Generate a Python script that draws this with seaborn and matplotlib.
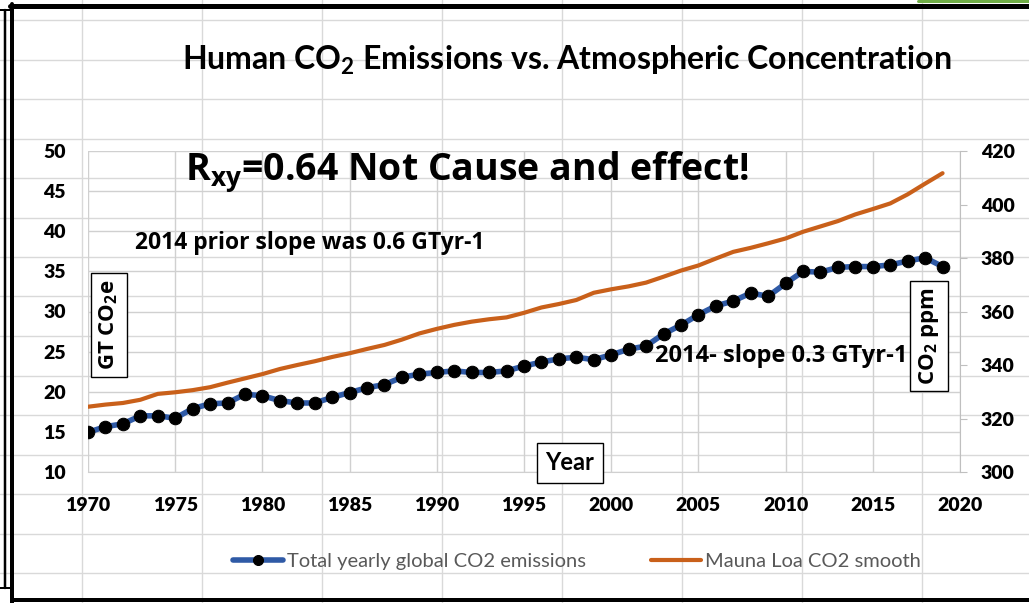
import numpy as np
import pandas as pd
import matplotlib
matplotlib.use('Agg')
import matplotlib.pyplot as plt
import seaborn as sns
from matplotlib.lines import Line2D

years = list(range(1970, 2020))
emissions = [14.95, 15.65, 16.0, 17.0, 17.0, 16.7, 17.9, 18.5, 18.6, 19.7,
             19.5, 18.9, 18.6, 18.6, 19.3, 19.9, 20.5, 20.9, 21.8, 22.2,
             22.4, 22.6, 22.4, 22.4, 22.6, 23.2, 23.7, 24.1, 24.3, 24.0,
             24.6, 25.3, 25.7, 27.2, 28.3, 29.6, 30.7, 31.3, 32.3, 31.9,
             33.5, 35.0, 34.9, 35.5, 35.6, 35.6, 35.8, 36.3, 36.7, 35.6]
mauna_loa = [324.4, 325.2, 325.8, 327.0, 329.2, 329.8, 330.6, 331.7, 333.4, 335.0,
             336.6, 338.5, 340.0, 341.4, 343.0, 344.4, 346.0, 347.5, 349.5, 351.8,
             353.5, 355.0, 356.2, 357.1, 357.8, 359.5, 361.5, 362.8, 364.3, 367.0,
             368.3, 369.4, 370.8, 373.0, 375.3, 377.2, 379.8, 382.3, 383.8, 385.5,
             387.3, 389.8, 391.8, 393.8, 396.3, 398.3, 400.4, 403.8, 407.8, 411.7]
left_ticks = [10, 15, 20, 25, 30, 35, 40, 45, 50]
right_ticks = [300, 320, 340, 360, 380, 400, 420]
year_ticks = [1970, 1975, 1980, 1985, 1990, 1995, 2000, 2005, 2010, 2015, 2020]

df = pd.DataFrame({'year': years, 'emissions': emissions, 'co2': mauna_loa})

sns.set_style('white')
plt.rcParams['font.family'] = ['Lato', 'DejaVu Sans']
plt.rcParams['text.color'] = 'black'

W, H = 1029, 603
fig = plt.figure(figsize=(W / 100, H / 100), dpi=100)
fig.patch.set_facecolor('white')

def px(x, y):
    return x / W, 1 - y / H

# spreadsheet cells behind the chart
cell = '#d9d9d9'
for x in np.arange(82, W, 120):
    fig.add_artist(Line2D([x / W] * 2, [0, 1], color=cell, lw=1, zorder=0))
for y in np.arange(20, H, 39.5):
    fig.add_artist(Line2D([0, 1], [1 - y / H] * 2, color=cell, lw=1, zorder=0))

blue = '#2f5aa6'
orange = '#c9601a'
grid = '#d0d0d0'

ax = fig.add_axes([88 / W, 1 - 472 / H, (960 - 88) / W, (472 - 151) / H])
ax.patch.set_visible(False)
sns.lineplot(data=df, x='year', y='emissions', ax=ax, color=blue, lw=4,
             marker='o', markersize=9, markerfacecolor='black',
             markeredgecolor='black', label='Total yearly global CO2 emissions',
             legend=False)
ax.set_xlim(1970, 2020)
ax.set_ylim(10, 50)
ax.set_xticks(year_ticks)
ax.set_yticks(left_ticks)
ax.grid(True, color=grid, lw=1)
ax.set_xlabel('')
ax.set_ylabel('')
for s in ['top', 'left', 'right']:
    ax.spines[s].set_visible(False)
ax.spines['bottom'].set_color(grid)
ax.tick_params(axis='y', length=0, pad=16, labelsize=14, labelcolor='black')
ax.tick_params(axis='x', length=0, pad=18, labelsize=14, labelcolor='black')
for lab in ax.get_xticklabels() + ax.get_yticklabels():
    lab.set_fontweight('heavy')

ax2 = ax.twinx()
sns.lineplot(data=df, x='year', y='co2', ax=ax2, color=orange, lw=3,
             label='Mauna Loa CO2 smooth', legend=False)
ax2.set_ylim(300, 420)
ax2.set_yticks(right_ticks)
ax2.set_ylabel('')
for s in ['top', 'left', 'bottom']:
    ax2.spines[s].set_visible(False)
ax2.spines['right'].set_color('#bfbfbf')
ax2.tick_params(axis='y', length=5, color='#bfbfbf', pad=10, labelsize=14,
                labelcolor='black')
for lab in ax2.get_yticklabels():
    lab.set_fontweight('heavy')

# title and annotations
fig.text(*px(567, 60), r'Human CO$_\mathregular{2}$ Emissions vs. Atmospheric Concentration',
         ha='center', va='center', fontsize=23, fontweight='bold')
fig.text(*px(185, 172), r'R$_\mathregular{xy}$=0.64 Not Cause and effect!',
         ha='left', va='center', fontsize=27, fontweight='bold', family='Open Sans')
fig.text(*px(135, 243), '2014 prior slope was 0.6 GTyr-1',
         ha='left', va='center', fontsize=16.5, fontweight='bold', family='Open Sans')
fig.text(*px(655, 356), '2014- slope 0.3 GTyr-1',
         ha='left', va='center', fontsize=17, fontweight='bold', family='Open Sans')

box = dict(boxstyle='square,pad=0.3', fc='white', ec='black', lw=1)
fig.text(*px(109, 325), r'GT CO$_\mathregular{2}$e', rotation=90, ha='center', va='center',
         fontsize=16, fontweight='bold', family='Open Sans', bbox=box)
fig.text(*px(929, 336), r'CO$_\mathregular{2}$ ppm', rotation=90, ha='center', va='center',
         fontsize=16, fontweight='bold', family='Open Sans', bbox=box)
fig.text(*px(570, 463), 'Year', ha='center', va='center',
         fontsize=17, fontweight='bold', bbox=dict(boxstyle='square,pad=0.35', fc='white', ec='black', lw=1))

# legend
handles = [ax.get_lines()[0], ax2.get_lines()[0]]
fig.legend(handles, ['Total yearly global CO2 emissions', 'Mauna Loa CO2 smooth'],
           loc='center', bbox_to_anchor=px(577, 561), ncol=2, frameon=False,
           fontsize=14.5, labelcolor='#595959', handlelength=2.5,
           columnspacing=3.2, handletextpad=0.2, markerscale=0.8)

# sheet frame
k = 0.72
fig.add_artist(Line2D([10 / W, 1], [1 - 6 / H] * 2, color='black', lw=5 * k))
fig.add_artist(Line2D([12 / W] * 2, [0, 1 - 4 / H], color='black', lw=4 * k))
fig.add_artist(Line2D([12 / W, 1], [1 - 600 / H] * 2, color='black', lw=4 * k))
fig.add_artist(Line2D([5 / W] * 2, [1 - 10 / H, 1 - 588 / H], color='black', lw=2.5 * k))
fig.add_artist(Line2D([0, 10 / W], [1 - 10 / H] * 2, color='black', lw=2 * k))
fig.add_artist(Line2D([0, 10 / W], [1 - 588 / H] * 2, color='black', lw=2 * k))
fig.add_artist(Line2D([918 / W, 1], [1 - 1 / H] * 2, color='#70ad47', lw=3 * k))

fig.savefig('out.png', dpi=100, facecolor='white')
